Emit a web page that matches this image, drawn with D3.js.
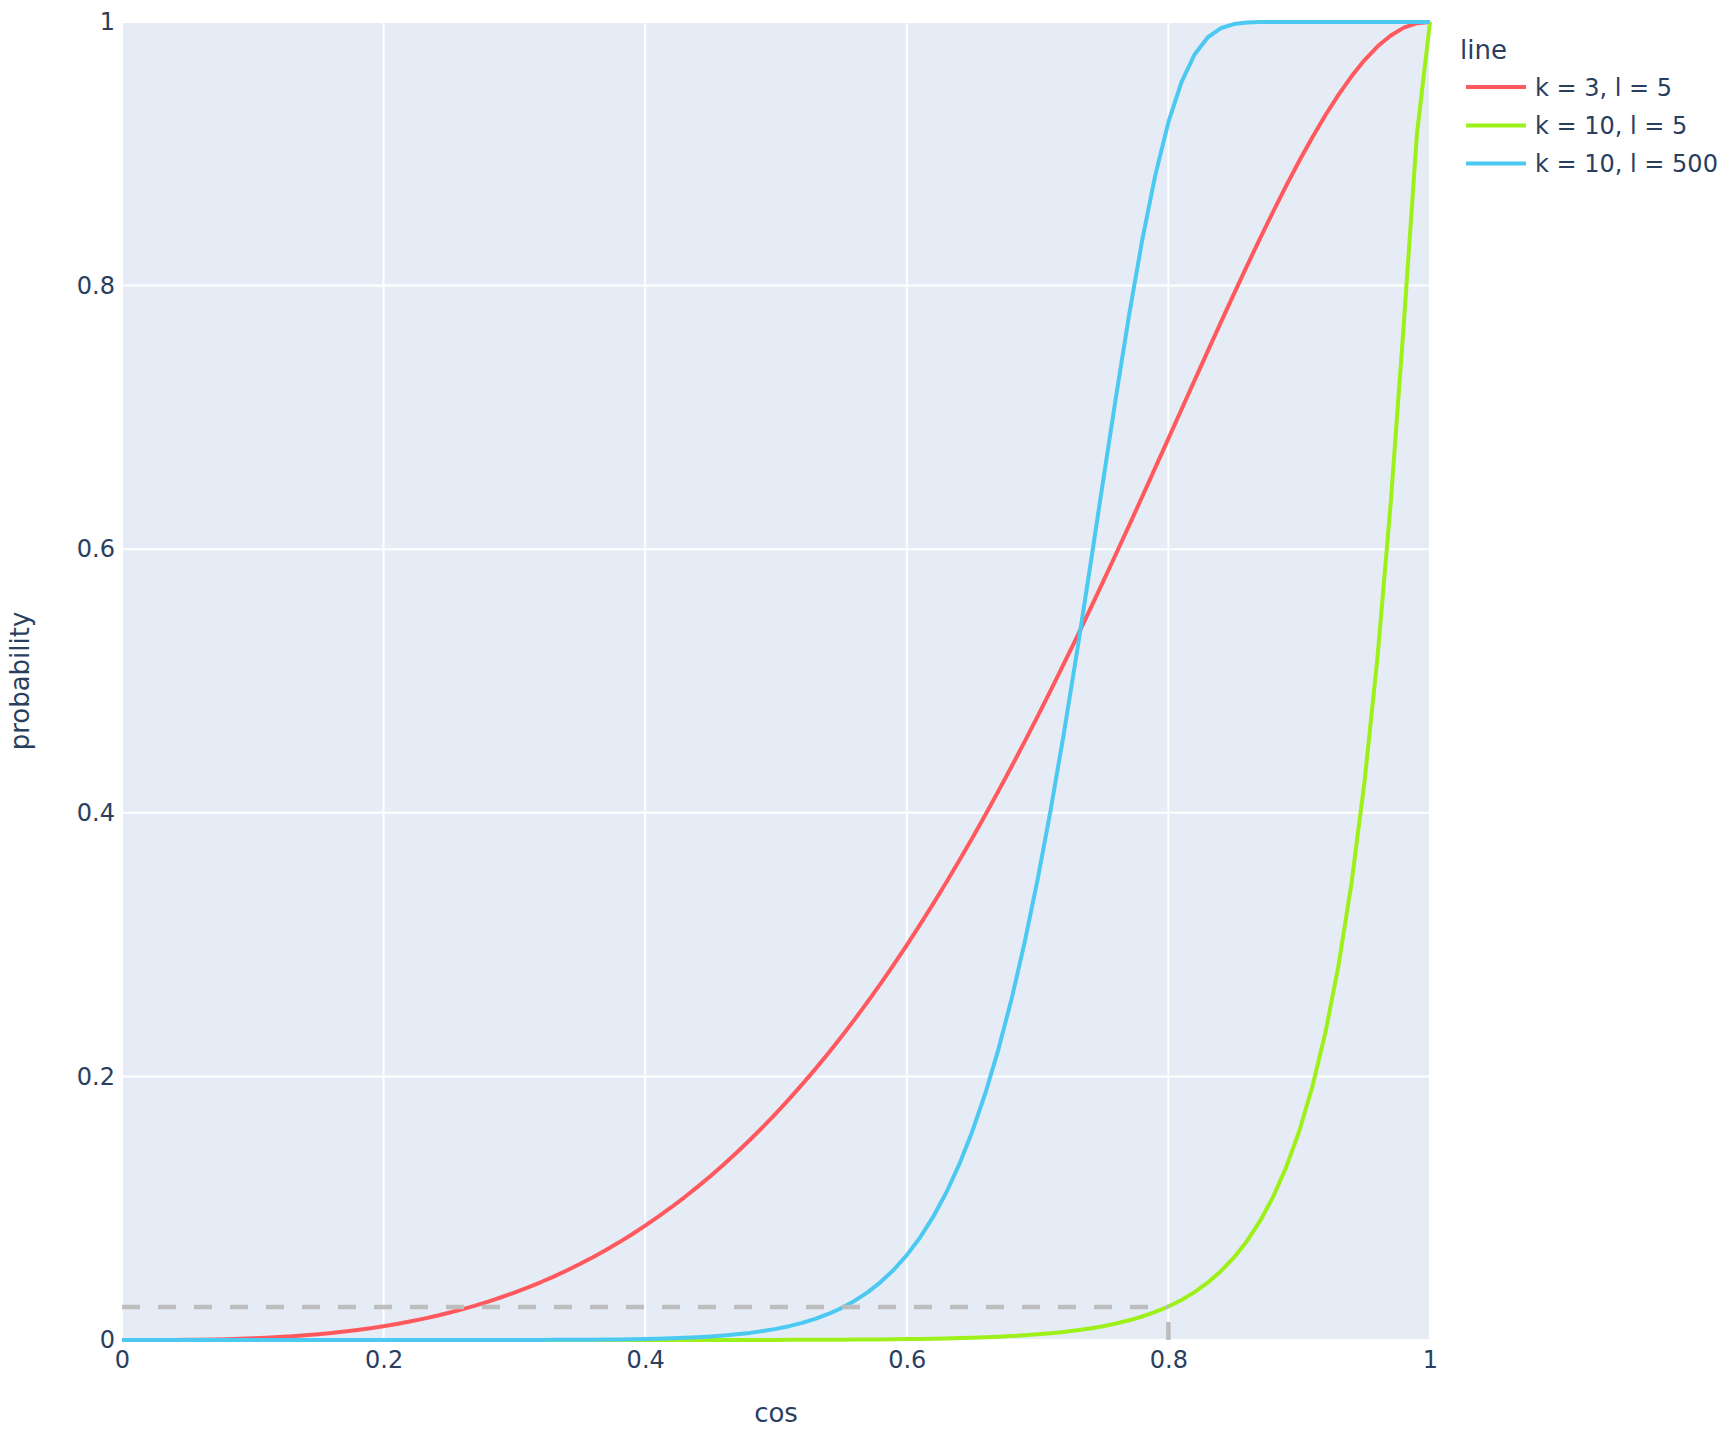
<!DOCTYPE html>
<html>
<head>
<meta charset="utf-8">
<script src="https://cdn.jsdelivr.net/npm/d3@7"></script>
<style>
  html, body { margin: 0; padding: 0; background: #ffffff; }
  svg { display: block; }
</style>
</head>
<body>
<script>
// ---------- data ----------
const cosValues = [
  0.00,0.01,0.02,0.03,0.04,0.05,0.06,0.07,0.08,0.09,
  0.10,0.11,0.12,0.13,0.14,0.15,0.16,0.17,0.18,0.19,
  0.20,0.21,0.22,0.23,0.24,0.25,0.26,0.27,0.28,0.29,
  0.30,0.31,0.32,0.33,0.34,0.35,0.36,0.37,0.38,0.39,
  0.40,0.41,0.42,0.43,0.44,0.45,0.46,0.47,0.48,0.49,
  0.50,0.51,0.52,0.53,0.54,0.55,0.56,0.57,0.58,0.59,
  0.60,0.61,0.62,0.63,0.64,0.65,0.66,0.67,0.68,0.69,
  0.70,0.71,0.72,0.73,0.74,0.75,0.76,0.77,0.78,0.79,
  0.80,0.81,0.82,0.83,0.84,0.85,0.86,0.87,0.88,0.89,
  0.90,0.91,0.92,0.93,0.94,0.95,0.96,0.97,0.98,0.99,
  1.00
];

// k = 3, l = 5
const probK3L5 = [
  0,0.0000013,0.0000103,0.0000348,0.0000826,0.0001615,0.0002791,0.0004435,0.0006624,0.0009439,
  0.0012959,0.0017264,0.0022433,0.0028552,0.0035698,0.0043958,0.0053412,0.0064147,0.0076245,0.0089793,
  0.0104877,0.0121583,0.0140000,0.0160217,0.0182317,0.0206399,0.0232546,0.0260850,0.0291401,0.0324298,
  0.0359629,0.0397481,0.0437957,0.0481148,0.0527145,0.0576034,0.0627919,0.0682897,0.0741047,0.0802474,
  0.0867267,0.0935515,0.1007304,0.1082722,0.1161870,0.1244841,0.1331693,0.1422510,0.1517414,0.1616448,
  0.171964,0.182716,0.193901,0.205523,0.217595,0.230117,0.243095,0.256532,0.270433,0.284800,
  0.299633,0.314932,0.330699,0.346929,0.363623,0.380773,0.398375,0.416421,0.434901,0.453805,
  0.473123,0.492831,0.512918,0.533355,0.554130,0.575201,0.596546,0.618130,0.639908,0.661846,
  0.683884,0.705975,0.728056,0.750058,0.771908,0.793522,0.814811,0.835670,0.855992,0.875651,
  0.894512,0.912428,0.929235,0.944753,0.958788,0.971129,0.981551,0.989824,0.995725,0.999086,
  1
];

// k = 10, l = 5
const probK10L5 = [
  0,0,0,0,0,0,0,0,0,0,
  0,0,0,0,0,0,0,0,0,0,
  0,0,0,0,0,0,0,0,0,0,
  0.0000004,0.0000005,0.0000007,0.0000010,0.0000014,0.0000019,0.0000025,0.0000033,0.0000044,0.0000058,
  0.0000076,0.0000099,0.0000128,0.0000165,0.0000211,0.0000268,0.0000340,0.0000430,0.0000541,0.0000678,
  0.0000847,0.0001054,0.0001308,0.0001617,0.0001995,0.0002453,0.0003009,0.0003682,0.0004495,0.0005476,
  0.000666,0.000807,0.000978,0.001182,0.001427,0.001719,0.002069,0.002486,0.002984,0.003579,
  0.004288,0.005133,0.006140,0.007341,0.008771,0.010477,0.012511,0.014937,0.017835,0.021297,
  0.025437,0.030398,0.036346,0.043490,0.052086,0.062450,0.074970,0.090133,0.108494,0.130968,
  0.158351,0.191904,0.233136,0.283944,0.346674,0.424137,0.519453,0.635300,0.771342,0.914815,
  1
];

// k = 10, l = 500
const probK10L500 = [
  0,0,0,0,0,0,0,0,0,0,
  0,0,0,0,0,0,0,0,0,0,
  0.0000006,0.0000010,0.0000016,0.0000025,0.0000038,0.0000058,0.0000087,0.0000127,0.0000185,0.0000266,
  0.0000377,0.0000529,0.0000735,0.0001012,0.0001380,0.0001868,0.0002508,0.0003343,0.0004426,0.0005822,
  0.000761,0.000989,0.001279,0.001644,0.002104,0.002680,0.003398,0.004290,0.005395,0.006757,
  0.008432,0.010484,0.012991,0.016042,0.019748,0.024233,0.029645,0.036155,0.043960,0.053291,
  0.064406,0.077594,0.093185,0.111531,0.133019,0.158053,0.187041,0.220363,0.258359,0.301309,
  0.349317,0.402284,0.459861,0.521344,0.585630,0.651187,0.716053,0.777985,0.834631,0.883825,
  0.923974,0.954360,0.975334,0.988279,0.995248,0.998417,0.999587,0.999921,0.999990,0.999999,
  1,1,1,1,1,1,1,1,1,1,
  1
];

const seriesNames = ["k = 3, l = 5", "k = 10, l = 5", "k = 10, l = 500"];
const seriesColors = ["#FF595E", "#9EF01A", "#4CC9F0"];
const seriesValues = [probK3L5, probK10L5, probK10L500];

const xTickValues = [0, 0.2, 0.4, 0.6, 0.8, 1];
const xTickLabels = ["0", "0.2", "0.4", "0.6", "0.8", "1"];
const yTickValues = [0, 0.2, 0.4, 0.6, 0.8, 1];
const yTickLabels = ["0", "0.2", "0.4", "0.6", "0.8", "1"];

const thresholdProb = 0.025;
const thresholdCos = 0.8;

const legendTitle = "line";
const xTitle = "cos";
const yTitle = "probability";

// ---------- layout ----------
const W = 1730, H = 1432;
const plot = { left: 122, right: 1430, top: 22, bottom: 1340 };
const FONT = '"DejaVu Sans", Verdana, sans-serif';
const TEXT = "#2a3f5f";

const svg = d3.select("body").append("svg")
  .attr("width", W).attr("height", H)
  .attr("viewBox", `0 0 ${W} ${H}`);

const x = d3.scaleLinear().domain([0, 1]).range([plot.left, plot.right]);
const y = d3.scaleLinear().domain([0, 1]).range([plot.bottom, plot.top]);

// background
svg.append("rect")
  .attr("x", plot.left).attr("y", plot.top)
  .attr("width", plot.right - plot.left).attr("height", plot.bottom - plot.top)
  .attr("fill", "#E5ECF6");

// grid
const grid = svg.append("g");
grid.selectAll("line.gx").data(xTickValues).join("line")
  .attr("x1", d => x(d)).attr("x2", d => x(d))
  .attr("y1", plot.top).attr("y2", plot.bottom)
  .attr("stroke", "#ffffff").attr("stroke-width", 2);
grid.selectAll("line.gy").data(yTickValues).join("line")
  .attr("y1", d => y(d)).attr("y2", d => y(d))
  .attr("x1", plot.left).attr("x2", plot.right)
  .attr("stroke", "#ffffff").attr("stroke-width", 2);

// axes
const xAxis = d3.axisBottom(x)
  .tickValues(xTickValues)
  .tickFormat((d, i) => xTickLabels[i])
  .tickSize(0).tickPadding(11);
const gx = svg.append("g").attr("transform", `translate(0,${plot.bottom})`).call(xAxis);
gx.select(".domain").remove();
gx.selectAll("text").attr("font-family", FONT).attr("font-size", 24).attr("fill", TEXT);

const yAxis = d3.axisLeft(y)
  .tickValues(yTickValues)
  .tickFormat((d, i) => yTickLabels[i])
  .tickSize(0).tickPadding(7);
const gy = svg.append("g").attr("transform", `translate(${plot.left},0)`).call(yAxis);
gy.select(".domain").remove();
gy.selectAll("text").attr("font-family", FONT).attr("font-size", 24).attr("fill", TEXT);

// axis titles
svg.append("text")
  .attr("x", (plot.left + plot.right) / 2).attr("y", 1422)
  .attr("text-anchor", "middle")
  .attr("font-family", FONT).attr("font-size", 26).attr("fill", TEXT)
  .text(xTitle);
svg.append("text")
  .attr("transform", `translate(29,${(plot.top + plot.bottom) / 2}) rotate(-90)`)
  .attr("text-anchor", "middle")
  .attr("font-family", FONT).attr("font-size", 26).attr("fill", TEXT)
  .text(yTitle);

// lines
const line = d3.line().x(d => x(d[0])).y(d => y(d[1]));
const lines = svg.append("g");
seriesValues.forEach((vals, i) => {
  const pts = cosValues.map((c, j) => [c, vals[j]]);
  lines.append("path")
    .datum(pts)
    .attr("d", line)
    .attr("fill", "none")
    .attr("stroke", seriesColors[i])
    .attr("stroke-width", 4)
    .attr("stroke-linejoin", "round")
    .attr("stroke-linecap", "butt");
});

// threshold dashed shapes
const shapes = svg.append("g");
shapes.append("path")
  .attr("d", line([[0, thresholdProb], [thresholdCos, thresholdProb]]))
  .attr("fill", "none").attr("stroke", "#BDBDBD").attr("stroke-width", 4.5)
  .attr("stroke-dasharray", "18,18");
shapes.append("path")
  .attr("d", line([[thresholdCos, 0], [thresholdCos, thresholdProb]]))
  .attr("fill", "none").attr("stroke", "#BDBDBD").attr("stroke-width", 4.5)
  .attr("stroke-dasharray", "18,18");

// legend
const legend = svg.append("g");
legend.append("text")
  .attr("x", 1460).attr("y", 59)
  .attr("font-family", FONT).attr("font-size", 26).attr("fill", TEXT)
  .text(legendTitle);
const legendRowY = [87, 125.5, 163.5];
seriesNames.forEach((name, i) => {
  const ly = legendRowY[i];
  legend.append("line")
    .attr("x1", 1466).attr("x2", 1526)
    .attr("y1", ly).attr("y2", ly)
    .attr("stroke", seriesColors[i]).attr("stroke-width", 4);
  legend.append("text")
    .attr("x", 1535).attr("y", ly + 8.5)
    .attr("font-family", FONT).attr("font-size", 24).attr("fill", TEXT)
    .text(name);
});
</script>
</body>
</html>
